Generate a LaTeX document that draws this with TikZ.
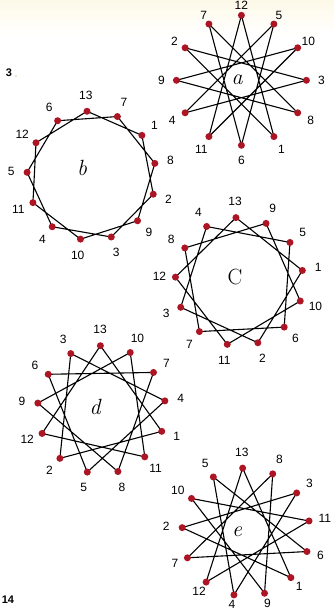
\documentclass[tikz,border=0pt]{standalone}
\usepackage{fontspec}
\newfontfamily\numfont{Liberation Sans}
\usetikzlibrary{calc}
\definecolor{dotred}{RGB}{172,22,36}
\definecolor{paper}{RGB}{253,249,232}
\newcommand{\mystar}[8]{% #1 name, #2 cx, #3 cy, #4 R, #5 n, #6 mult, #7 top angle, #8 label offset
  \coordinate (#1c) at (#2,#3);
  \foreach \k in {1,...,#5} {
    \pgfmathtruncatemacro\pos{mod(#6*\k,#5)}
    \pgfmathsetmacro\ang{#7-\pos*360/#5}
    \coordinate (#1\k) at ($(#1c)+(\ang:#4)$);
  }
  \draw[edge] (#1#5) \foreach \k in {1,...,#5} { -- (#1\k) };
  \foreach \k in {1,...,#5} {
    \pgfmathtruncatemacro\pos{mod(#6*\k,#5)}
    \pgfmathsetmacro\ang{#7-\pos*360/#5}
    \pgfmathsetmacro\lr{#4+#8}
    \node[dotnode] (#1d\k) at (#1\k) {};
    \node[numlabel] (#1l\k) at ($(#1c)+(\ang:\lr)$) {\k};
  }
}
\begin{document}
\begin{tikzpicture}[x=1pt,y=1pt,
  edge/.style={line width=1.1pt, black, line join=round},
  dotnode/.style={circle, fill=dotred, inner sep=0pt, minimum size=7pt},
  numlabel/.style={font=\numfont\fontsize{12}{12}\selectfont, inner sep=0pt},
  starname/.style={font=\itshape\fontsize{22}{22}\selectfont, inner sep=0pt},
  pagenum/.style={font=\numfont\bfseries\fontsize{11}{11}\selectfont, inner sep=0pt}]
\useasboundingbox (0,0) rectangle (334,-615);
\fill[white] (0,0) rectangle (334,-615);
\shade[top color=paper, bottom color=white] (0,0) rectangle (334,-35);

\mystar{a}{241.4}{-80.3}{65}{12}{5}{90}{15-5.5*max(0,sin(\ang))}
\mystar{b}{91.5}{-175.6}{64.5}{13}{2}{94}{16}
\mystar{c}{239.3}{-281.5}{64}{13}{3}{93}{16}
\mystar{d}{101.5}{-409.7}{64}{13}{4}{91}{16}
\mystar{e}{246}{-532}{64}{13}{5}{93}{16-6*max(0,-sin(\ang))}

\node[starname] (na) at (237,-80) {a};
\node[starname] (nb) at (82,-168) {b};
\node[starname,font=\fontsize{22}{22}\selectfont] (nc) at (235,-277) {C};
\node[starname] (nd) at (95,-407) {d};
\node[starname] (ne) at (237,-532) {e};

\node[pagenum] (p3) at (9,-73) {3};
\fill[paper!60!brown] (16,-76) circle (0.9);
\node[pagenum] (p14) at (8,-600) {14};
\end{tikzpicture}
\end{document}
